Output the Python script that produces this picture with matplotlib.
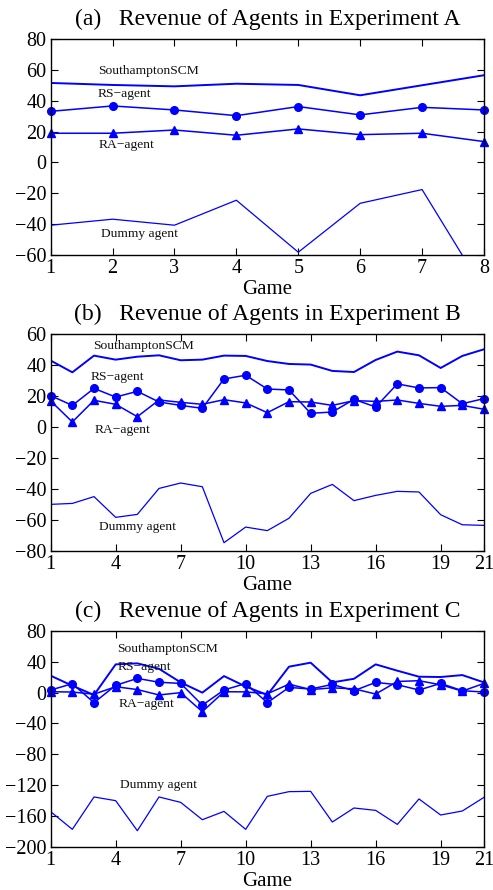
import matplotlib
matplotlib.use("Agg")
import matplotlib.pyplot as plt
import numpy as np

plt.rcParams['font.family'] = ['Liberation Serif', 'DejaVu Serif']

BLUE = '#0000FF'

# ---------------- Experiment A ----------------
games_a = [1, 2, 3, 4, 5, 6, 7, 8]
scm_a = [51.5, 50.2, 49.3, 51.0, 50.2, 43.5, 50.0, 56.5]
rs_a = [33.1, 36.6, 34.0, 30.3, 36.2, 30.8, 35.7, 34.0]
ra_a = [18.9, 18.9, 21.0, 17.6, 21.7, 18.0, 18.9, 13.5]
dummy_a = [-40.7, -36.8, -40.7, -24.5, -58.2, -26.5, -17.6, -83.0]

# ---------------- Experiment B ----------------
games_b = list(range(1, 22))
scm_b = [43.0, 35.4, 46.2, 43.6, 45.5, 46.4, 43.2, 43.6, 46.2, 46.0, 42.7,
         40.8, 40.4, 36.3, 35.6, 43.4, 48.8, 46.4, 38.2, 46.0, 50.3]
rs_b = [20.3, 14.0, 25.0, 19.4, 23.1, 16.2, 14.0, 12.1, 31.1, 33.5, 24.6,
        24.0, 8.9, 9.7, 17.9, 13.0, 27.9, 25.3, 25.5, 15.1, 18.4]
ra_b = [16.9, 3.3, 17.3, 14.7, 6.7, 17.5, 16.0, 14.7, 17.7, 15.6, 9.3,
        16.4, 16.2, 14.0, 17.1, 16.6, 17.5, 15.3, 13.4, 14.0, 11.5]
dummy_b = [-50.0, -49.4, -45.0, -58.4, -56.5, -39.7, -36.2, -38.6, -74.8, -64.7,
           -67.0, -59.0, -42.9, -37.1, -47.6, -44.2, -41.6, -42.0, -56.7, -63.2, -63.6]

# ---------------- Experiment C ----------------
games_c = list(range(1, 22))
scm_c = [22.0, 9.0, -3.0, 36.7, 38.0, 31.0, 13.3, 0.0, 21.5, 8.0, -3.0,
         33.7, 38.9, 13.3, 18.0, 36.7, 28.5, 20.7, 20.3, 22.8, 13.3]
rs_c = [3.4, 11.6, -13.0, 9.5, 18.5, 13.5, 12.0, -16.3, 3.5, 11.8, -13.0,
        6.8, 4.7, 10.7, 2.5, 13.3, 10.3, 3.4, 12.0, 2.5, 0.8]
ra_c = [1.2, 0.8, -2.0, 7.7, 4.0, -3.0, 0.0, -24.7, 1.2, 1.0, -1.5,
        11.0, 4.0, 6.2, 5.0, -1.8, 14.5, 15.5, 10.2, 2.0, 12.0]
dummy_c = [-154.5, -177.4, -135.4, -140.2, -179.2, -135.4, -142.4, -164.9, -154.1, -177.4,
           -134.6, -128.5, -128.1, -167.9, -149.7, -152.8, -171.0, -138.0, -158.8, -153.6, -135.9]

titles = ['(a)   Revenue of Agents in Experiment A',
          '(b)   Revenue of Agents in Experiment B',
          '(c)   Revenue of Agents in Experiment C']
label_names = ['SouthamptonSCM', 'RS\u2212agent', 'RA\u2212agent', 'Dummy agent']

panels = [
    dict(g=games_a, scm=scm_a, rs=rs_a, ra=ra_a, dm=dummy_a,
         xlim=(1, 8), xt=[1, 2, 3, 4, 5, 6, 7, 8],
         ylim=(-60, 80), yt=list(range(-60, 81, 20)),
         rect=[0.1028, 0.7135, 0.8789, 0.2427],
         labels=[(1.76, 59.0), (1.76, 44.4), (1.78, 11.3), (1.81, -46.4)]),
    dict(g=games_b, scm=scm_b, rs=rs_b, ra=ra_b, dm=dummy_b,
         xlim=(1, 21), xt=[1, 4, 7, 10, 13, 16, 19, 21],
         ylim=(-80, 60), yt=list(range(-80, 61, 20)),
         rect=[0.1028, 0.3812, 0.8789, 0.2432],
         labels=[(2.95, 52.6), (2.86, 32.4), (3.01, -1.9), (3.23, -64.6)]),
    dict(g=games_c, scm=scm_c, rs=rs_c, ra=ra_c, dm=dummy_c,
         xlim=(1, 21), xt=[1, 4, 7, 10, 13, 16, 19, 21],
         ylim=(-200, 80), yt=list(range(-200, 81, 40)),
         rect=[0.1028, 0.0486, 0.8789, 0.2424],
         labels=[(4.05, 56.6), (4.09, 32.9), (4.15, -15.0), (4.2, -120.0)]),
]

fig = plt.figure(figsize=(4.93, 8.90), dpi=100)

for p, title in zip(panels, titles):
    ax = fig.add_axes(p['rect'])
    ax.plot(p['g'], p['scm'], color=BLUE, lw=1.4)
    ax.plot(p['g'], p['rs'], color=BLUE, lw=1.1, marker='o', ms=5.5, clip_on=False)
    ax.plot(p['g'], p['ra'], color=BLUE, lw=1.1, marker='^', ms=6.0, clip_on=False)
    ax.plot(p['g'], p['dm'], color=BLUE, lw=0.9)
    ax.set_xlim(*p['xlim'])
    ax.set_ylim(*p['ylim'])
    ax.set_xticks(p['xt'])
    ax.set_yticks(p['yt'])
    ax.set_yticklabels([str(v).replace('-', '\u2212') for v in p['yt']])
    ax.tick_params(direction='in', top=True, right=True, labelsize=14.5,
                   length=5, width=0.8, pad=3)
    for s in ax.spines.values():
        s.set_linewidth(1.0)
    ax.set_xlabel('Game', fontsize=15, labelpad=1.5)
    ax.set_title(title, fontsize=17, pad=10)
    for name, (tx, ty) in zip(label_names, p['labels']):
        ax.text(tx, ty, name, fontsize=9.7, ha='left', va='center', color='#111111')

fig.savefig('out.png', dpi=100)
